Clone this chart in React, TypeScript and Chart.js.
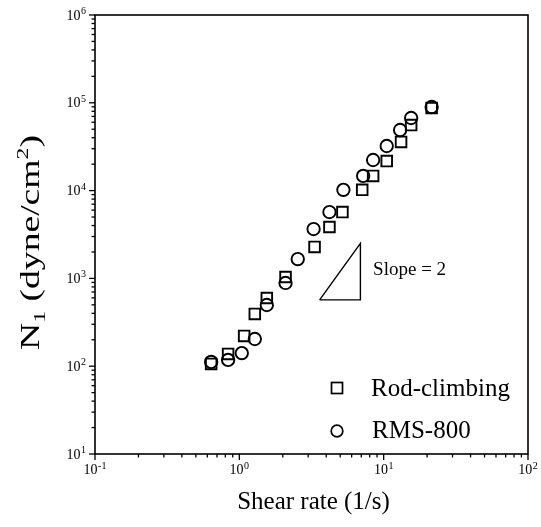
import { useEffect, useRef } from "react";
import { Chart, registerables } from "chart.js";

Chart.register(...registerables);

// ---- data ----
const rodX = [0.638, 0.836, 1.08, 1.28, 1.55, 2.09, 3.32, 4.21, 5.18, 7.1, 8.45, 10.5, 13.2, 15.5, 21.5];
const rodY = [106, 138, 221, 394, 598, 1037, 2280, 3850, 5700, 10200, 14700, 21700, 35800, 55800, 87300];

const rmsX = [0.638, 0.836, 1.04, 1.28, 1.55, 2.09, 2.54, 3.27, 4.21, 5.26, 7.21, 8.45, 10.5, 13.0, 15.5, 21.5];
const rmsY = [112, 118, 141, 204, 498, 887, 1660, 3650, 5700, 10200, 14700, 22300, 32200, 49000, 67100, 89600];

// slope triangle vertices
const slopeX = [3.6, 6.9, 6.9, 3.6];
const slopeY = [570, 570, 2500, 570];
const slopeLabel = "Slope = 2";
const slopeLabelX = 8.45;
const slopeLabelY = 1250;

const seriesNames = ["Rod-climbing", "RMS-800"];
const xTitle = "Shear rate (1/s)";

const xExponents = [-1, 0, 1, 2];
const yExponents = [1, 2, 3, 4, 5, 6];
const minorMultipliers = [2, 3, 4, 5, 6, 7, 8, 9];

const SERIF = '"Liberation Serif", "Times New Roman", serif';

const toPoints = (xs: number[], ys: number[]) => xs.map((x, i) => ({ x, y: ys[i] }));

const expText = (e: number) => (e < 0 ? "-" + Math.abs(e) : String(e));

const decorPlugin = {
  id: "decor",
  afterDraw(chart: any) {
    const ctx: CanvasRenderingContext2D = chart.ctx;
    const xs = chart.scales.x;
    const ys = chart.scales.y;
    const a = chart.chartArea;
    ctx.save();
    ctx.strokeStyle = "#000";
    ctx.fillStyle = "#000";
    ctx.lineWidth = 1.6;
    // frame
    ctx.strokeRect(a.left, a.top, a.right - a.left, a.bottom - a.top);

    // y ticks
    ctx.lineWidth = 1.3;
    yExponents.forEach((e, i) => {
      const py = ys.getPixelForValue(Math.pow(10, e));
      ctx.beginPath();
      ctx.moveTo(a.left - 6, py);
      ctx.lineTo(a.left, py);
      ctx.stroke();
      if (i < yExponents.length - 1) {
        minorMultipliers.forEach((m) => {
          const p = ys.getPixelForValue(m * Math.pow(10, e));
          ctx.beginPath();
          ctx.moveTo(a.left - 3.5, p);
          ctx.lineTo(a.left, p);
          ctx.stroke();
        });
      }
    });
    // x ticks
    xExponents.forEach((e, i) => {
      const px = xs.getPixelForValue(Math.pow(10, e));
      ctx.beginPath();
      ctx.moveTo(px, a.bottom);
      ctx.lineTo(px, a.bottom + 6);
      ctx.stroke();
      if (i < xExponents.length - 1) {
        minorMultipliers.forEach((m) => {
          const p = xs.getPixelForValue(m * Math.pow(10, e));
          ctx.beginPath();
          ctx.moveTo(p, a.bottom);
          ctx.lineTo(p, a.bottom + 3.5);
          ctx.stroke();
        });
      }
    });

    const drawPow = (exp: string, x: number, y: number, align: "center" | "right") => {
      ctx.textAlign = "left";
      ctx.textBaseline = "alphabetic";
      ctx.font = `14px ${SERIF}`;
      const wb = ctx.measureText("10").width;
      ctx.font = `10px ${SERIF}`;
      const we = ctx.measureText(exp).width;
      const total = wb + we + 0.5;
      const x0 = align === "center" ? x - total / 2 : x - total;
      ctx.font = `14px ${SERIF}`;
      ctx.fillText("10", x0, y);
      ctx.font = `10px ${SERIF}`;
      ctx.fillText(exp, x0 + wb + 0.5, y - 5.5);
    };

    yExponents.forEach((e) => {
      const py = ys.getPixelForValue(Math.pow(10, e));
      drawPow(expText(e), a.left - 9, py + 4.5, "right");
    });
    xExponents.forEach((e) => {
      const px = xs.getPixelForValue(Math.pow(10, e));
      drawPow(expText(e), px, a.bottom + 20, "center");
    });

    // x title
    ctx.font = `25px ${SERIF}`;
    ctx.textAlign = "center";
    ctx.textBaseline = "alphabetic";
    ctx.fillText(xTitle, (a.left + a.right) / 2 + 2, a.bottom + 55);

    // y title (rotated, with sub/superscript)
    const parts = [
      { t: "N", s: 27, dy: 0 },
      { t: "1", s: 17, dy: 6 },
      { t: " (dyne/cm", s: 27, dy: 0 },
      { t: "2", s: 17, dy: -11 },
      { t: ")", s: 27, dy: 0 },
    ];
    let natural = 0;
    parts.forEach((p) => {
      ctx.font = `${p.s}px ${SERIF}`;
      natural += ctx.measureText(p.t).width;
    });
    const targetLen = 215;
    ctx.save();
    ctx.translate(30, (a.top + a.bottom) / 2 + 8);
    ctx.rotate(-Math.PI / 2);
    ctx.scale(targetLen / natural, 1);
    ctx.textAlign = "left";
    let cx = -natural / 2;
    parts.forEach((p) => {
      ctx.font = `${p.s}px ${SERIF}`;
      ctx.fillText(p.t, cx, 9 + p.dy);
      cx += ctx.measureText(p.t).width;
    });
    ctx.restore();

    // slope label
    ctx.font = `19px ${SERIF}`;
    ctx.textAlign = "left";
    ctx.textBaseline = "middle";
    ctx.fillText(slopeLabel, xs.getPixelForValue(slopeLabelX), ys.getPixelForValue(slopeLabelY));

    // legend
    ctx.lineWidth = 1.7;
    const lx = a.right - 191;
    const ly1 = a.bottom - 66;
    const ly2 = a.bottom - 23;
    ctx.strokeRect(lx - 5.5, ly1 - 5.5, 11, 11);
    ctx.beginPath();
    ctx.arc(lx, ly2, 5.8, 0, Math.PI * 2);
    ctx.stroke();
    ctx.font = `25px ${SERIF}`;
    ctx.textBaseline = "middle";
    ctx.fillText(seriesNames[0], a.right - 157, ly1 + 1);
    ctx.fillText(seriesNames[1], a.right - 156, ly2);
    ctx.restore();
  },
};

export default function App() {
  const ref = useRef<HTMLCanvasElement>(null);
  useEffect(() => {
    document.body.style.margin = "0";
    const canvas = ref.current;
    if (!canvas) return;
    const chart = new Chart(canvas, {
      type: "scatter",
      data: {
        datasets: [
          {
            label: seriesNames[0],
            data: toPoints(rodX, rodY),
            pointStyle: "rect",
            pointRadius: 7.5,
            pointBorderWidth: 1.9,
            borderColor: "#000",
            backgroundColor: "rgba(0,0,0,0)",
            pointBackgroundColor: "rgba(0,0,0,0)",
          },
          {
            label: seriesNames[1],
            data: toPoints(rmsX, rmsY),
            pointStyle: "circle",
            pointRadius: 6.2,
            pointBorderWidth: 1.9,
            borderColor: "#000",
            backgroundColor: "rgba(0,0,0,0)",
            pointBackgroundColor: "rgba(0,0,0,0)",
          },
          {
            label: "slope",
            data: toPoints(slopeX, slopeY),
            showLine: true,
            pointRadius: 0,
            borderColor: "#000",
            borderWidth: 1.4,
            tension: 0,
          } as any,
        ],
      },
      options: {
        responsive: false,
        animation: false,
        layout: { padding: { left: 95, top: 15, right: 13, bottom: 73 } },
        scales: {
          x: { type: "logarithmic", min: 0.1, max: 100, display: false },
          y: { type: "logarithmic", min: 10, max: 1e6, display: false },
        },
        plugins: {
          legend: { display: false },
          tooltip: { enabled: false },
        },
      },
      plugins: [decorPlugin],
    });
    return () => chart.destroy();
  }, []);
  return <canvas ref={ref} width={541} height={527} style={{ display: "block" }} />;
}
